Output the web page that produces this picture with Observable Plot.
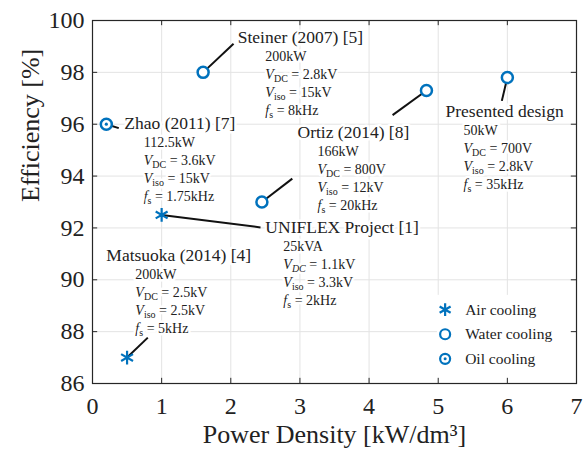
<!DOCTYPE html>
<html><head><meta charset="utf-8">
<script src="https://cdn.jsdelivr.net/npm/d3@7"></script>
<script src="https://cdn.jsdelivr.net/npm/@observablehq/plot@0.6"></script>
<style>body{margin:0;background:#fff;font-family:"Liberation Serif",serif}</style>
</head><body><div id="chart"></div>
<script>
// ---- data ----
const studies   = ["Matsuoka (2014) [4]", "UNIFLEX Project [1]", "Zhao (2011) [7]", "Steiner (2007) [5]", "Ortiz (2014) [8]", "Ortiz (2014) [8]", "Presented design"];
const density   = [0.5, 1.0, 0.2, 1.6, 4.83, 2.45, 6.0];
const efficiency= [87, 92.5, 96, 98, 97.3, 93, 97.8];
const cooling   = ["Air", "Air", "Oil", "Water", "Water", "Water", "Water"];
const dashed    = [false, false, false, false, false, true, false];
// leader line ends (data units)
const leadX     = [0.80, 2.43, 0.38, 2.04, 4.34, 2.89, 5.92];
const leadY     = [87.77, 92.02, 95.85, 99.1, 96.35, 93.9, 96.9];
// annotation blocks
const labelNames = ["Matsuoka (2014) [4]", "UNIFLEX Project [1]", "Zhao (2011) [7]", "Steiner (2007) [5]", "Ortiz (2014) [8]", "Presented design"];
const labelX     = [0.20, 2.50, 0.46, 2.10, 2.965, 5.106];
const labelY     = [90.94, 92.02, 96.03, 99.34, 95.68, 96.49];
const detailX    = [0.62, 2.76, 0.74, 2.50, 3.254, 5.366];
const power      = ["200kW", "25kVA", "112.5kW", "200kW", "166kW", "50kW"];
const vdc        = ["V_{DC} = 2.5kV", "V_{*DC} = 1.1kV", "V_{DC} = 3.6kV", "V_{DC} = 2.8kV", "V_{DC} = 800V", "V_{DC} = 700V"];
const viso       = ["V_{iso} = 2.5kV", "V_{iso} = 3.3kV", "V_{iso} = 15kV", "V_{iso} = 15kV", "V_{iso} = 12kV", "V_{iso} = 2.8kV"];
const fs         = ["f_{s} = 5kHz", "f_{s} = 2kHz", "f_{s} = 1.75kHz", "f_{s} = 8kHz", "f_{s} = 20kHz", "f_{s} = 35kHz"];
const legendLabels = ["Air cooling", "Water cooling", "Oil cooling"];
const legendTypes  = ["Air", "Water", "Oil"];
const xTicks = [0, 1, 2, 3, 4, 5, 6, 7];
const yTicks = [86, 88, 90, 92, 94, 96, 98, 100];

const blue = "#0072BD";
const font = "Liberation Serif, serif";
const points = studies.map((s, i) => ({s, x: density[i], y: efficiency[i], c: cooling[i], d: dashed[i], lx: leadX[i], ly: leadY[i]}));
const labels = labelNames.map((n, i) => ({n, x: labelX[i], y: labelY[i], dx: detailX[i], rows: [power[i], vdc[i], viso[i], fs[i]]}));
const legend = legendLabels.map((l, i) => ({l, t: legendTypes[i], y: 88.85 - i * 0.95}));

const detailMarks = [0, 1, 2, 3].map(k => Plot.text(labels, {
  x: "dx", y: "y", text: d => d.rows[k], textAnchor: "start", dy: 19 + k * 18,
  fontSize: 14, fontFamily: font, fill: "#222", stroke: "white", strokeWidth: 5
}));

const chart = Plot.plot({
  width: 585, height: 461,
  marginLeft: 92, marginRight: 9, marginTop: 20, marginBottom: 78,
  style: {fontFamily: font, background: "white"},
  x: {domain: [0, 7], ticks: xTicks},
  y: {domain: [86, 100], ticks: yTicks},
  marks: [
    Plot.gridX(xTicks, {stroke: "#e3e3e3", strokeOpacity: 1}),
    Plot.gridY(yTicks, {stroke: "#e3e3e3", strokeOpacity: 1}),
    Plot.axisX(xTicks, {tickSize: 0, tickPadding: 13, fontSize: 24, fontFamily: font, fill: "#222", label: null}),
    Plot.axisY(yTicks, {tickSize: 0, tickPadding: 8, fontSize: 24, fontFamily: font, fill: "#222", label: null}),
    // legend background
    Plot.rect([{}], {x1: 4.99, x2: 7, y1: 86, y2: 89.4, fill: "white"}),
    // leader lines
    Plot.link(points, {x1: "x", y1: "y", x2: "lx", y2: "ly", stroke: "#111", strokeWidth: 2}),
    // annotation texts
    ...detailMarks,
    Plot.text(labels, {x: "x", y: "y", text: "n", textAnchor: "start", fontSize: 17.5, fontFamily: font, fill: "#222", stroke: "white", strokeWidth: 5}),
    // markers
    Plot.dot(points.filter(d => d.c === "Air"), {x: "x", y: "y", symbol: "asterisk", r: 6.5, stroke: blue, strokeWidth: 2.2}),
    Plot.dot(points.filter(d => d.c !== "Air"), {x: "x", y: "y", r: 5.5, fill: "white", stroke: blue, strokeWidth: 2.5, strokeDasharray: d => d.d ? "3.5,2.5" : null}),
    Plot.dot(points.filter(d => d.c === "Oil"), {x: "x", y: "y", r: 1.6, fill: blue}),
    // legend
    Plot.dot(legend.filter(d => d.t === "Air"), {x: 5.1, y: "y", symbol: "asterisk", r: 6, stroke: blue, strokeWidth: 2.2}),
    Plot.dot(legend.filter(d => d.t !== "Air"), {x: 5.1, y: "y", r: 5, fill: "white", stroke: blue, strokeWidth: 2.2}),
    Plot.dot(legend.filter(d => d.t === "Oil"), {x: 5.1, y: "y", r: 1.5, fill: blue}),
    Plot.text(legend, {x: 5.39, y: "y", text: "l", textAnchor: "start", fontSize: 15.5, fontFamily: font, fill: "#222"}),
    // inward ticks
    Plot.ruleX(xTicks, {y1: 86, y2: 86.2, stroke: "#262626"}),
    Plot.ruleX(xTicks, {y1: 99.8, y2: 100, stroke: "#262626"}),
    Plot.ruleY(yTicks, {x1: 0, x2: 0.075, stroke: "#262626"}),
    Plot.ruleY(yTicks, {x1: 6.925, x2: 7, stroke: "#262626"}),
    Plot.frame({stroke: "#262626", strokeWidth: 1.2}),
    // axis titles
    Plot.text(["Power Density [kW/dm³]"], {frameAnchor: "bottom", dy: 59, fontSize: 26, fontFamily: font, fill: "#222"}),
    Plot.text(["Efficiency [%]"], {frameAnchor: "left", dx: -62, rotate: -90, fontSize: 26, fontFamily: font, fill: "#222"})
  ]
});

// subscripts: V_{DC}, f_{s}; "*" = italic subscript
d3.select(chart).selectAll("text").each(function() {
  const el = d3.select(this);
  if (el.selectAll("tspan").size() > 0) return;
  const t = this.textContent;
  const m = t.match(/^(\w)_\{(\*?)(\w+)\}(.*)$/);
  if (!m) return;
  el.text(null);
  el.append("tspan").attr("font-style", "italic").text(m[1]);
  el.append("tspan").attr("font-size", "10").attr("dy", "3").attr("font-style", m[2] ? "italic" : null).text(m[3]);
  el.append("tspan").attr("dy", "-3").text(m[4]);
});

document.getElementById("chart").append(chart);
</script>
</body></html>
